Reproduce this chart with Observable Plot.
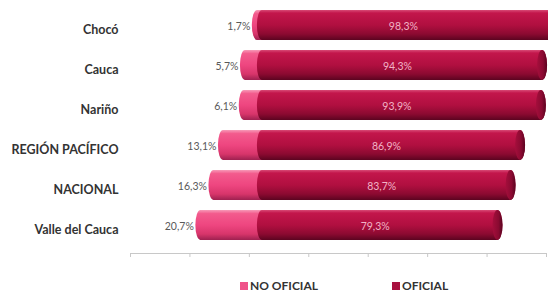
<!DOCTYPE html>
<html><head><meta charset="utf-8">
<script src="https://cdn.jsdelivr.net/npm/d3@7"></script>
<script src="https://cdn.jsdelivr.net/npm/@observablehq/plot@0.6"></script>
<style>
html,body{margin:0;padding:0;background:#fff;overflow:hidden;}
#chart{position:relative;width:548px;height:293px;}
#chart svg{overflow:hidden;display:block;}
.legend{position:absolute;top:277px;left:0;width:548px;height:17px;font:bold 12px Lato, sans-serif;color:#333;}
.item{position:absolute;top:0;height:17px;display:flex;align-items:center;white-space:nowrap;}
.sw{width:8px;height:8px;margin-right:2px;}
</style></head><body><div id="chart"></div>
<script>
const categories = ["Chocó","Cauca","Nariño","REGIÓN PACÍFICO","NACIONAL","Valle del Cauca"];
const noOficial = [1.7,5.7,6.1,13.1,16.3,20.7];
const oficial = [98.3,94.3,93.9,86.9,83.7,79.3];
const seriesNames = ["NO OFICIAL","OFICIAL"];
const seriesColors = ["#ef538a","#a8113f"];
const xTicks = [-40,-20,0,20,40,60,80,100];

const fmt = v => v.toFixed(1).replace(".", ",") + "%";
const rows = categories.map((c,i)=>({cat:c, no:noOficial[i], of:oficial[i]}));

const defs = () => d3.create("svg:defs").html(`
<linearGradient id="gPink" x1="0" y1="0" x2="0" y2="1">
 <stop offset="0" stop-color="#f79ab8"/><stop offset="0.12" stop-color="#f35b8d"/>
 <stop offset="0.5" stop-color="#ee4680"/><stop offset="0.8" stop-color="#d8356b"/>
 <stop offset="1" stop-color="#9e2050"/></linearGradient>
<linearGradient id="gDark" x1="0" y1="0" x2="0" y2="1">
 <stop offset="0" stop-color="#d84a76"/><stop offset="0.1" stop-color="#c3164b"/>
 <stop offset="0.5" stop-color="#b10f40"/><stop offset="0.8" stop-color="#8c0a31"/>
 <stop offset="1" stop-color="#5c0420"/></linearGradient>
<linearGradient id="gCap" x1="0" y1="0" x2="1" y2="0">
 <stop offset="0" stop-color="#a50e3c"/><stop offset="0.6" stop-color="#8a0a31"/>
 <stop offset="1" stop-color="#5a0420"/></linearGradient>`).node();

const axisLine = (index, scales, values, dims) => d3.create("svg:line")
  .attr("x1", scales.x(xTicks[0])).attr("x2", scales.x(xTicks[xTicks.length-1]))
  .attr("y1", dims.height - dims.marginBottom + 0.5).attr("y2", dims.height - dims.marginBottom + 0.5)
  .attr("stroke", "#c8c8c8").node();

const barOpts = {y:"cat", dx:13, insetLeft:-5, insetRight:-5, rx:5, ry:16};

const plot = Plot.plot({
  width: 548, height: 268,
  marginLeft: 130, marginRight: 2, marginTop: 4, marginBottom: 15,
  style: {fontFamily: "Lato, sans-serif", background: "#fff"},
  x: {domain: [xTicks[0], xTicks[xTicks.length-1]], label: null},
  y: {domain: categories, paddingInner: 0.24, paddingOuter: 0.1, insetBottom: 6, label: null},
  marks: [
    defs,
    axisLine,
    Plot.axisX({ticks: xTicks, tickSize: 4, tickFormat: () => "", stroke: "#c8c8c8"}),
    Plot.barX(rows, {...barOpts, x1: d => -d.no, x2: 0, fill: "url(#gPink)"}),
    Plot.barX(rows, {...barOpts, x1: 0, x2: "of", fill: "url(#gDark)"}),
    Plot.barX(rows, {...barOpts, x1: "of", x2: "of", fill: "url(#gCap)"}),
    Plot.text(rows, {y: "cat", x: d => -d.no, text: d => fmt(d.no), textAnchor: "end", dx: 6, dy: 1, fill: "#595959", fontSize: 10.5}),
    Plot.text(rows, {y: "cat", x: d => d.of / 2, text: d => fmt(d.of), dx: 8, dy: 1, fill: "#f2b3c6", fontSize: 10.5}),
    Plot.axisY({tickSize: 0, tickPadding: 12, fontWeight: "bold", fontSize: 12.5, fill: "#333", dy: 4})
  ]
});

const chart = document.getElementById("chart");
chart.appendChild(plot);
const legend = document.createElement("div");
legend.className = "legend";
const lefts = [240, 392];
seriesNames.forEach((name, i) => {
  const it = document.createElement("div");
  it.className = "item";
  it.style.left = lefts[i] + "px";
  it.innerHTML = `<span class="sw" style="background:${seriesColors[i]}"></span><span>${name}</span>`;
  legend.appendChild(it);
});
chart.appendChild(legend);
</script></body></html>
